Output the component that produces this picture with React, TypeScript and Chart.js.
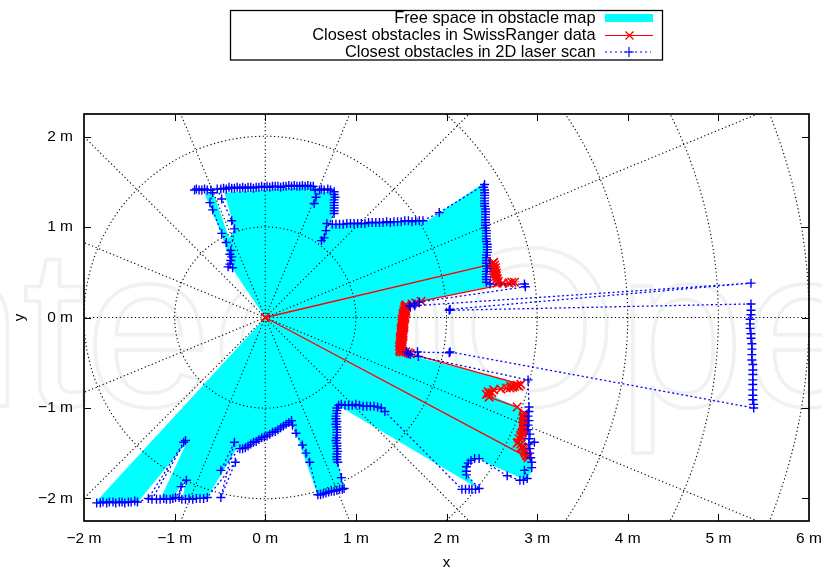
import React, { useEffect, useRef } from "react";
import { Chart, registerables } from "chart.js";

Chart.register(...registerables);

type P = [number, number];

const xTicks = [-2, -1, 0, 1, 2, 3, 4, 5, 6];
const yTicks = [-2, -1, 0, 1, 2];
const seriesNames = [
  "Free space in obstacle map",
  "Closest obstacles in SwissRanger data",
  "Closest obstacles in 2D laser scan",
];
const axisTitles = ["x", "y"];
const watermarkParts = ["Intech", "Open"];
const gridRadii = [1, 2, 3, 4, 5, 6];
const gridAngles = [0, 22.5, 45, 67.5, 90, 112.5, 135, 157.5, 180, 202.5, 225, 247.5, 270, 292.5, 315, 337.5];

const freeSpace: P[] = [
  [0, 0], [-0.21, 0.31], [-0.35, 0.52], [-0.48, 0.91], [-0.67, 1.37], [-0.57, 1.37], [-0.4, 0.88], [-0.34, 0.98],
  [-0.45, 1.38], [0.56, 1.45], [0.6, 1.38], [0.76, 1.4], [0.77, 1.16], [0.67, 0.98], [0.63, 0.85], [0.72, 1.03],
  [1.79, 1.07], [2.4, 1.48], [2.43, 0.88], [2.45, 0.38], [2.51, 0.35], [1.7, 0.17], [1.54, 0.13], [1.45, -0.39],
  [1.57, -0.4], [1.68, -0.44], [2.78, -0.72], [2.45, -0.84], [2.78, -0.99], [2.86, -1.06], [2.88, -1.55], [2.94, -1.58],
  [2.95, -1.69], [2.88, -1.8], [2.44, -1.61], [2.36, -1.56], [2.25, -1.61], [2.22, -1.72], [2.33, -1.88], [0.8, -0.97],
  [0.8, -1.6], [0.87, -1.88], [0.56, -1.97], [0.56, -1.91], [0.3, -1.17], [-0.32, -1.46], [-0.64, -1.99], [-0.91, -1.99],
  [-0.88, -1.82], [-0.94, -1.87], [-1.01, -1.99], [-1.15, -1.99], [-0.87, -1.39], [-1.39, -2.02], [-1.87, -2.04], [0, 0],
];

const swissRanger: P[] = [
  [0, 0], [2.9, -1.55], [2.89, -1.53], [2.88, -1.52], [2.87, -1.5], [2.86, -1.48], [2.85, -1.46], [2.84, -1.44],
  [2.83, -1.43], [2.82, -1.4], [2.79, -1.38], [2.78, -1.39], [2.8, -1.34], [2.82, -1.32], [2.82, -1.3], [2.83, -1.28],
  [2.84, -1.27], [2.85, -1.25], [2.85, -1.24], [2.85, -1.22], [2.85, -1.21], [2.86, -1.19], [2.85, -1.18], [2.85, -1.16],
  [2.85, -1.15], [2.86, -1.13], [2.85, -1.12], [2.85, -1.1], [2.85, -1.09], [2.86, -1.07], [2.86, -1.06], [2.78, -0.99],
  [2.47, -0.88], [2.44, -0.85], [2.47, -0.84], [2.46, -0.82], [2.5, -0.83], [2.52, -0.8], [2.6, -0.79], [2.66, -0.78],
  [2.7, -0.78], [2.71, -0.76], [2.73, -0.77], [2.75, -0.76], [2.78, -0.75], [2.8, -0.76], [2.82, -0.74],
  [1.6, -0.4], [1.58, -0.39], [1.55, -0.38], [1.52, -0.38], [1.49, -0.38], [1.5, -0.37], [1.48, -0.36], [1.5, -0.35],
  [1.49, -0.34], [1.5, -0.33], [1.48, -0.32], [1.51, -0.31], [1.49, -0.3], [1.51, -0.29], [1.49, -0.28], [1.51, -0.27],
  [1.49, -0.26], [1.51, -0.25], [1.49, -0.24], [1.51, -0.23], [1.49, -0.22], [1.52, -0.21], [1.5, -0.2], [1.52, -0.19],
  [1.5, -0.18], [1.52, -0.17], [1.5, -0.16], [1.52, -0.15], [1.5, -0.14], [1.52, -0.13], [1.5, -0.12], [1.53, -0.11],
  [1.51, -0.1], [1.53, -0.09], [1.51, -0.08], [1.53, -0.07], [1.51, -0.06], [1.53, -0.05], [1.51, -0.04], [1.53, -0.03],
  [1.51, -0.02], [1.54, -0.01], [1.52, 0], [1.54, 0.01], [1.52, 0.02], [1.54, 0.03], [1.52, 0.04], [1.55, 0.05],
  [1.53, 0.06], [1.55, 0.07], [1.53, 0.08], [1.55, 0.09], [1.54, 0.1], [1.56, 0.11], [1.54, 0.12], [1.56, 0.13],
  [1.55, 0.14], [1.62, 0.15], [1.66, 0.16], [1.72, 0.18], [2.75, 0.39], [2.72, 0.39], [2.69, 0.38], [2.62, 0.38],
  [2.56, 0.38], [2.57, 0.4], [2.55, 0.42], [2.56, 0.43], [2.54, 0.45], [2.55, 0.46], [2.53, 0.48], [2.55, 0.49],
  [2.53, 0.51], [2.54, 0.52], [2.52, 0.54], [2.54, 0.55], [2.52, 0.57], [2.53, 0.58], [2.51, 0.6], [2.52, 0.61], [2.5, 0.59], [0, 0],
];

const laserLowerLeft: P[] = [
  [-1.86, -2.05], [-1.82, -2.05], [-1.79, -2.04], [-1.75, -2.05], [-1.72, -2.04], [-1.68, -2.04], [-1.65, -2.05],
  [-1.61, -2.04], [-1.58, -2.04], [-1.55, -2.05], [-1.51, -2.04], [-1.48, -2.04], [-1.44, -2.03], [-1.41, -2.04],
  [-1.29, -2.0], [-0.9, -1.38], [-0.88, -1.36], [-1.25, -2.01], [-1.2, -2.01], [-1.16, -2.01], [-1.12, -2.0],
  [-1.09, -2.01], [-1.05, -2.01], [-1.02, -2.0], [-0.99, -1.99], [-0.87, -1.8], [-0.93, -1.87], [-0.95, -1.99],
  [-0.92, -2.01], [-0.88, -2.01], [-0.84, -2.0], [-0.8, -2.01], [-0.76, -2.0], [-0.72, -2.0], [-0.68, -2.0], [-0.64, -1.99],
  [-0.33, -1.6], [-0.49, -1.99], [-0.34, -1.38], [-0.49, -1.69],
];
const laserBottom: P[] = [
  [-0.28, -1.45], [-0.25, -1.45], [-0.22, -1.44], [-0.19, -1.42], [-0.16, -1.4], [-0.13, -1.38], [-0.1, -1.37],
  [-0.07, -1.35], [-0.04, -1.33], [-0.01, -1.32], [0.02, -1.31], [0.05, -1.29], [0.08, -1.27], [0.11, -1.26],
  [0.14, -1.24], [0.17, -1.22], [0.2, -1.2], [0.23, -1.18], [0.26, -1.16], [0.29, -1.14], [0.3, -1.19], [0.34, -1.28],
  [0.41, -1.41], [0.45, -1.5], [0.49, -1.6], [0.58, -1.96], [0.61, -1.96], [0.64, -1.95], [0.67, -1.94], [0.7, -1.93],
  [0.73, -1.92], [0.76, -1.92], [0.79, -1.91], [0.82, -1.9], [0.85, -1.9], [0.87, -1.89], [0.84, -1.77], [0.8, -1.6],
  [0.79, -1.57], [0.79, -1.54], [0.79, -1.51], [0.8, -1.48], [0.79, -1.45], [0.79, -1.42], [0.79, -1.39], [0.78, -1.36],
  [0.79, -1.33], [0.79, -1.3], [0.79, -1.27], [0.79, -1.24], [0.79, -1.21], [0.78, -1.18], [0.79, -1.15], [0.78, -1.12],
  [0.78, -1.09], [0.79, -1.06], [0.79, -1.03], [0.79, -1.0], [0.81, -0.97], [0.84, -0.96], [0.88, -0.97], [0.92, -0.97],
  [0.96, -0.97], [1.0, -0.96], [1.04, -0.97], [1.08, -0.98], [1.12, -0.98], [1.16, -0.98], [1.2, -0.98], [1.24, -0.99],
  [1.28, -1.0], [1.32, -1.04],
];
const laserLowerRight: P[] = [
  [2.17, -1.9], [2.21, -1.9], [2.25, -1.9], [2.28, -1.9], [2.32, -1.9], [2.36, -1.89], [2.22, -1.74], [2.22, -1.7],
  [2.22, -1.65], [2.24, -1.61], [2.27, -1.58], [2.31, -1.56], [2.36, -1.56], [2.67, -1.75], [2.81, -1.8], [2.85, -1.8],
  [2.89, -1.78], [2.86, -1.69], [2.94, -1.66], [2.94, -1.6], [2.93, -1.55], [2.92, -1.5], [2.92, -1.45], [2.91, -1.4],
  [2.97, -1.38], [2.91, -1.34], [2.92, -1.29], [2.9, -1.24], [2.9, -1.19], [2.91, -1.14], [2.9, -1.09], [2.91, -1.04],
  [2.91, -0.99], [2.9, -0.69], [1.69, -0.43], [1.68, -0.38], [1.6, -0.41], [1.58, -0.4], [1.56, -0.38], [2.03, -0.39],
  [2.04, -0.38],
];
const laserFarWall: P[] = [
  [5.39, -1.0], [5.39, -0.96], [5.38, -0.91], [5.38, -0.86], [5.38, -0.8], [5.38, -0.74], [5.38, -0.69], [5.38, -0.63],
  [5.38, -0.58], [5.38, -0.52], [5.37, -0.47], [5.37, -0.41], [5.37, -0.35], [5.37, -0.29], [5.36, -0.23], [5.36, -0.18],
  [5.35, -0.12], [5.35, -0.07], [5.35, -0.02], [5.36, 0.03], [5.36, 0.08], [5.36, 0.15],
];
const laserUpperRight: P[] = [
  [2.03, 0.08], [2.04, 0.09], [5.36, 0.38], [1.65, 0.13], [1.6, 0.12], [1.59, 0.13], [1.64, 0.15], [1.7, 0.17],
  [2.87, 0.34], [2.86, 0.37], [2.48, 0.37], [2.44, 0.39], [2.44, 0.42], [2.44, 0.45], [2.44, 0.48], [2.44, 0.51],
  [2.45, 0.54], [2.44, 0.57], [2.44, 0.6], [2.44, 0.63], [2.44, 0.66], [2.44, 0.69], [2.45, 0.72], [2.45, 0.75],
  [2.45, 0.78], [2.45, 0.81], [2.44, 0.84], [2.44, 0.87], [2.44, 0.9], [2.44, 0.93], [2.44, 0.96], [2.43, 0.99],
  [2.43, 1.02], [2.43, 1.05], [2.43, 1.08], [2.43, 1.11], [2.43, 1.14], [2.43, 1.17], [2.43, 1.2], [2.42, 1.23],
  [2.42, 1.26], [2.42, 1.29], [2.42, 1.32], [2.42, 1.35], [2.42, 1.38], [2.42, 1.41], [2.41, 1.44], [2.42, 1.47], [1.92, 1.16],
];
const laserShelf: P[] = [
  [1.74, 1.07], [1.7, 1.07], [1.66, 1.07], [1.62, 1.06], [1.58, 1.07], [1.54, 1.07], [1.5, 1.06], [1.46, 1.06],
  [1.42, 1.06], [1.38, 1.05], [1.34, 1.06], [1.3, 1.05], [1.26, 1.05], [1.22, 1.05], [1.18, 1.05], [1.14, 1.05],
  [1.1, 1.04], [1.06, 1.04], [1.02, 1.04], [0.98, 1.04], [0.94, 1.04], [0.9, 1.04], [0.86, 1.03], [0.82, 1.03],
  [0.78, 1.03], [0.74, 1.03], [0.68, 1.04], [0.67, 0.96], [0.65, 0.88], [0.62, 0.85], [0.76, 1.15], [0.76, 1.18],
  [0.76, 1.21], [0.76, 1.24], [0.76, 1.27], [0.76, 1.3], [0.77, 1.33], [0.76, 1.36], [0.76, 1.39], [0.72, 1.41],
  [0.69, 1.42], [0.65, 1.41], [0.62, 1.42], [0.6, 1.41], [0.54, 1.26], [0.56, 1.33], [0.55, 1.41],
];
const laserTop: P[] = [
  [0.53, 1.45], [0.5, 1.45], [0.47, 1.46], [0.44, 1.45], [0.41, 1.46], [0.38, 1.45], [0.35, 1.45], [0.32, 1.46],
  [0.29, 1.45], [0.26, 1.46], [0.23, 1.45], [0.2, 1.45], [0.17, 1.44], [0.14, 1.45], [0.11, 1.45], [0.08, 1.45],
  [0.05, 1.44], [0.02, 1.45], [-0.01, 1.44], [-0.04, 1.45], [-0.07, 1.44], [-0.1, 1.44], [-0.13, 1.43], [-0.16, 1.44],
  [-0.19, 1.44], [-0.22, 1.43], [-0.25, 1.44], [-0.28, 1.43], [-0.31, 1.44], [-0.34, 1.43], [-0.37, 1.43], [-0.4, 1.44],
  [-0.43, 1.42], [-0.46, 1.43], [-0.49, 1.42], [-0.53, 1.42],
];
const laserUpperLeft: P[] = [
  [-0.48, 1.31], [-0.37, 1.07], [-0.34, 0.98], [-0.38, 0.74], [-0.39, 0.7], [-0.37, 0.67], [-0.38, 0.63], [-0.39, 0.59],
  [-0.41, 0.56], [-0.36, 0.55], [-0.43, 0.83], [-0.48, 0.93], [-0.58, 1.19], [-0.61, 1.27], [-0.58, 1.38], [-0.6, 1.41],
  [-0.64, 1.41], [-0.67, 1.42], [-0.7, 1.41], [-0.73, 1.41], [-0.76, 1.42], [-0.78, 1.41],
];

const laserScan: P[] = [
  ...laserLowerLeft, ...laserBottom, ...laserLowerRight, ...laserFarWall,
  ...laserUpperRight, ...laserShelf, ...laserTop, ...laserUpperLeft,
];

const toXY = (list: P[]) => list.map(([x, y]) => ({ x, y }));
const fmt = (v: number | string) => `${Number(v) < 0 ? "\u2212" + Math.abs(Number(v)) : v} m`;
const FONT = '"Liberation Sans", Arial, sans-serif';
const CYAN = "#00ffff";
const RED = "#ff0000";
const BLUE = "#0000ff";

const backdrop = {
  id: "backdrop",
  beforeDraw(chart: any) {
    const c = chart.ctx;
    c.save();
    c.font = `227px ${FONT}`;
    c.textBaseline = "alphabetic";
    c.textAlign = "left";
    c.lineWidth = 3.5;
    c.lineJoin = "round";
    c.strokeStyle = "#f0f1f1";
    c.strokeText(watermarkParts[0], -167, 406);
    c.strokeText(watermarkParts[1], 441, 406);
    c.restore();
  },
};

const polarGrid = {
  id: "polarGrid",
  afterDatasetDraw(chart: any, args: any) {
    if (args.index !== 0) return;
    const { ctx: c, chartArea: a, scales } = chart;
    const px = (v: number) => scales.x.getPixelForValue(v);
    const py = (v: number) => scales.y.getPixelForValue(v);
    const ox = px(0);
    const oy = py(0);
    const unit = px(1) - px(0);
    c.save();
    c.beginPath();
    c.rect(a.left, a.top, a.width, a.height);
    c.clip();
    c.strokeStyle = "#000";
    c.lineWidth = 1.1;
    c.setLineDash([1.2, 2.6]);
    gridRadii.forEach((r) => {
      c.beginPath();
      c.arc(ox, oy, r * unit, 0, Math.PI * 2);
      c.stroke();
    });
    gridAngles.forEach((d) => {
      const t = (d * Math.PI) / 180;
      c.beginPath();
      c.moveTo(ox, oy);
      c.lineTo(px(10 * Math.cos(t)), py(10 * Math.sin(t)));
      c.stroke();
    });
    c.restore();
  },
};

const frameAndLegend = {
  id: "frameAndLegend",
  afterDraw(chart: any) {
    const { ctx: c, chartArea: a, scales } = chart;
    c.save();
    c.strokeStyle = "#000";
    c.lineWidth = 1;
    xTicks.forEach((v) => {
      const x = Math.round(scales.x.getPixelForValue(v)) + 0.5;
      if (x <= a.left + 1 || x >= a.right - 1) return;
      c.beginPath();
      c.moveTo(x, a.top);
      c.lineTo(x, a.top + 7);
      c.moveTo(x, a.bottom);
      c.lineTo(x, a.bottom - 7);
      c.stroke();
    });
    yTicks.forEach((v) => {
      const y = Math.round(scales.y.getPixelForValue(v)) + 0.5;
      c.beginPath();
      c.moveTo(a.left, y);
      c.lineTo(a.left + 7, y);
      c.moveTo(a.right, y);
      c.lineTo(a.right - 7, y);
      c.stroke();
    });
    c.lineWidth = 1.7;
    c.strokeRect(a.left, a.top, a.width, a.height);

    // legend box
    c.lineWidth = 1.3;
    c.strokeRect(230.5, 10.5, 432, 49.5);
    c.font = `16.4px ${FONT}`;
    c.fillStyle = "#000";
    c.textAlign = "right";
    c.textBaseline = "middle";
    const rows = [18.5, 35.5, 52];
    seriesNames.forEach((name, i) => c.fillText(name, 595.5, rows[i]));
    c.fillStyle = CYAN;
    c.fillRect(605, 14, 48, 8);
    c.lineWidth = 1.2;
    c.strokeStyle = RED;
    c.beginPath();
    c.moveTo(605, rows[1]);
    c.lineTo(653, rows[1]);
    c.moveTo(625.5, rows[1] - 4);
    c.lineTo(633.5, rows[1] + 4);
    c.moveTo(633.5, rows[1] - 4);
    c.lineTo(625.5, rows[1] + 4);
    c.stroke();
    c.strokeStyle = BLUE;
    c.setLineDash([2, 3]);
    c.beginPath();
    c.moveTo(605, rows[2]);
    c.lineTo(651, rows[2]);
    c.stroke();
    c.setLineDash([]);
    c.beginPath();
    c.moveTo(624, rows[2]);
    c.lineTo(634, rows[2]);
    c.moveTo(629, rows[2] - 5);
    c.lineTo(629, rows[2] + 5);
    c.stroke();
    c.restore();
  },
};

export default function App() {
  const ref = useRef<HTMLCanvasElement>(null);
  useEffect(() => {
    if (!ref.current) return;
    const chart = new Chart(ref.current, {
      type: "scatter",
      data: {
        datasets: [
          {
            label: seriesNames[0],
            data: toXY(freeSpace),
            showLine: true,
            order: 2,
            fill: "shape",
            backgroundColor: CYAN,
            borderColor: CYAN,
            borderWidth: 0,
            pointRadius: 0,
          },
          {
            label: seriesNames[1],
            data: toXY(swissRanger),
            showLine: true,
            order: 1,
            borderColor: RED,
            borderWidth: 1.3,
            pointStyle: "crossRot",
            pointRadius: 6,
            pointBorderColor: RED,
            pointBorderWidth: 1.6,
            pointBackgroundColor: RED,
          },
          {
            label: seriesNames[2],
            data: toXY(laserScan),
            showLine: true,
            order: 0,
            borderColor: BLUE,
            borderWidth: 1.3,
            borderDash: [2, 2.6],
            pointStyle: "cross",
            pointRadius: 4.5,
            pointBorderColor: BLUE,
            pointBorderWidth: 1.4,
            pointBackgroundColor: BLUE,
          },
        ],
      },
      options: {
        responsive: false,
        animation: false,
        layout: { padding: { top: 114, right: 13, left: 0, bottom: 0 } },
        plugins: { legend: { display: false }, tooltip: { enabled: false } },
        scales: {
          x: {
            type: "linear",
            min: -2,
            max: 6,
            afterBuildTicks: (s: any) => {
              s.ticks = xTicks.map((value) => ({ value }));
            },
            afterFit: (s: any) => {
              s.height = 46;
              s.paddingLeft = 0;
              s.paddingRight = 0;
            },
            grid: { display: false, drawTicks: false },
            border: { display: false },
            ticks: {
              padding: 8,
              maxRotation: 0,
              autoSkip: false,
              color: "#000",
              font: { family: FONT, size: 15.5 },
              callback: (v: any) => fmt(v),
            },
            title: {
              display: true,
              text: axisTitles[0],
              color: "#000",
              font: { family: FONT, size: 15, lineHeight: 1 },
              padding: { top: 0, bottom: -3 },
            },
          },
          y: {
            type: "linear",
            min: -2.25,
            max: 2.25,
            afterBuildTicks: (s: any) => {
              s.ticks = yTicks.map((value) => ({ value }));
            },
            afterFit: (s: any) => {
              s.width = 84;
              s.paddingTop = 0;
              s.paddingBottom = 0;
            },
            grid: { display: false, drawTicks: false },
            border: { display: false },
            ticks: {
              padding: 11,
              autoSkip: false,
              color: "#000",
              font: { family: FONT, size: 15.5 },
              callback: (v: any) => fmt(v),
            },
            title: {
              display: true,
              text: axisTitles[1],
              color: "#000",
              font: { family: FONT, size: 15, lineHeight: 1 },
              padding: { top: 12, bottom: 0 },
            },
          },
        },
      },
      plugins: [backdrop, polarGrid, frameAndLegend],
    } as any);
    return () => chart.destroy();
  }, []);
  return (
    <canvas
      ref={ref}
      width={822}
      height={567}
      style={{ position: "fixed", left: 0, top: 0, display: "block" }}
    />
  );
}
